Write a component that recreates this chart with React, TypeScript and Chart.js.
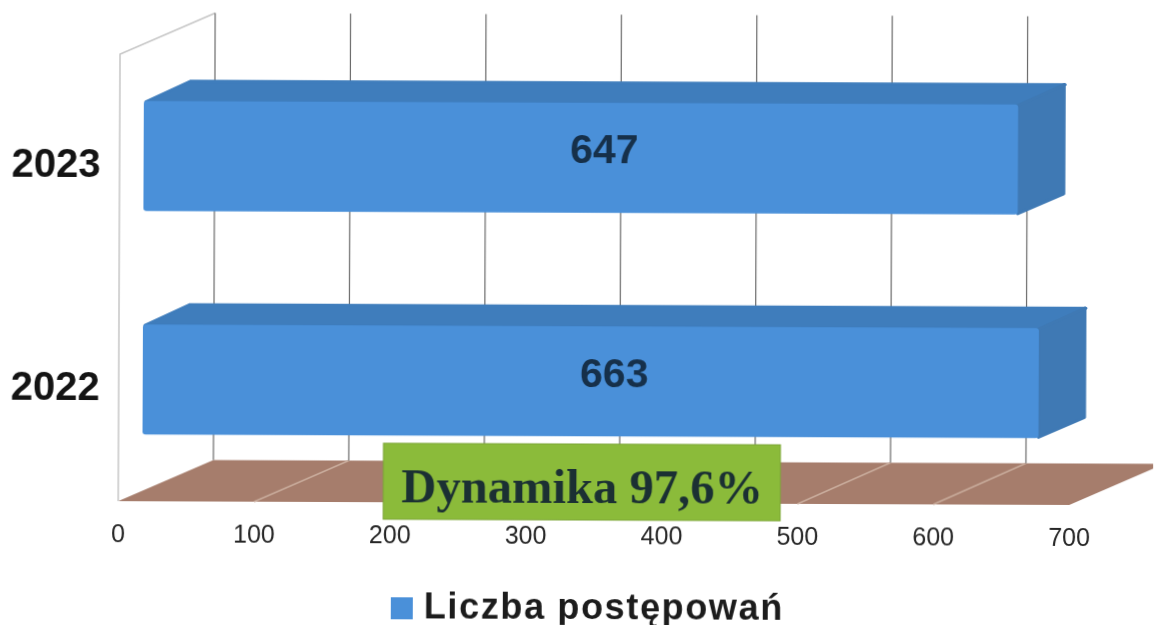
import React, { useEffect, useRef } from "react";
import { Chart, registerables } from "chart.js";

Chart.register(...registerables);

const categories = ["2023", "2022"];
const seriesName = "Liczba postępowań";
const seriesValues = [647, 663];
const tickStep = 100;
const axisMax = 700;
const calloutText = "Dynamika 97,6%";

const SANS = '"Liberation Sans", Arial, sans-serif';
const SERIF = '"Liberation Serif", "Times New Roman", serif';
const FRONT = "#4a90d9";
const TOP = "#3f7dbc";
const SIDE = "#3f79b4";
const FLOOR = "#a67d6c";
const FLOOR_LINE = "#c9ac9c";
const WALL = "#c6c6c6";
const GRID = "#6a6a6a";
const VALUE_COLOR = "#16304a";

// plot-frame depth and bar-depth offsets of the pseudo 3D projection
const WALL_DX = 95;
const WALL_DY = -41.5;
const WALL_SCALE = 0.9968;
const BAR_DX = 47;
const BAR_DY = -21;
const BAR_SHIFT_X = 24;
const BAR_SHIFT_Y = -10;
const BAR_SCALE = 0.9947;

const makeSwatch = () => {
  const c = document.createElement("canvas");
  c.width = 22;
  c.height = 22;
  const g = c.getContext("2d")!;
  g.fillStyle = FRONT;
  g.fillRect(0, 0, 22, 22);
  return c;
};

const scene = {
  id: "scene3d",
  afterLayout(chart: any) {
    const legend = chart.legend;
    legend.left += 43;
    legend.right += 43;
    legend.top += 12;
    legend.bottom += 12;
    if (!legend.__spaced) {
      legend.__spaced = true;
      const draw = legend.draw.bind(legend);
      legend.draw = () => {
        const ctx = chart.ctx;
        const prev = ctx.letterSpacing;
        ctx.letterSpacing = "1.65px";
        draw();
        ctx.letterSpacing = prev;
      };
    }
  },
  beforeDatasetsDraw(chart: any) {
    const { ctx, chartArea: a, scales } = chart;
    const x = scales.x;
    ctx.save();
    // floor
    ctx.fillStyle = FLOOR;
    ctx.beginPath();
    ctx.moveTo(a.left, a.bottom);
    ctx.lineTo(a.right, a.bottom);
    ctx.lineTo(a.right + WALL_DX, a.bottom + WALL_DY);
    ctx.lineTo(a.left + WALL_DX, a.bottom + WALL_DY);
    ctx.closePath();
    ctx.fill();
    // side wall outline
    ctx.strokeStyle = WALL;
    ctx.lineWidth = 1.5;
    ctx.beginPath();
    ctx.moveTo(a.left, a.bottom);
    ctx.lineTo(a.left, a.top);
    ctx.lineTo(a.left + WALL_DX, a.top + WALL_DY);
    ctx.stroke();
    // grid lines
    x.ticks.forEach((t: any) => {
      const px = x.getPixelForValue(t.value);
      const back = a.left + WALL_DX + (px - a.left) * WALL_SCALE;
      if (t.value > 0 && t.value < axisMax) {
        ctx.strokeStyle = FLOOR_LINE;
        ctx.lineWidth = 1.5;
        ctx.beginPath();
        ctx.moveTo(px, a.bottom);
        ctx.lineTo(back, a.bottom + WALL_DY);
        ctx.stroke();
      }
      ctx.strokeStyle = GRID;
      ctx.lineWidth = 1.2;
      ctx.beginPath();
      ctx.moveTo(back, a.bottom + WALL_DY);
      ctx.lineTo(back, a.top + WALL_DY);
      ctx.stroke();
    });
    ctx.restore();

    // bar depth faces, from the bar elements
    const toBar = (v: number) => a.left + BAR_SHIFT_X + (v - a.left) * BAR_SCALE;
    chart.getDatasetMeta(0).data.forEach((bar: any) => {
      const p = bar.getProps(["x", "y", "base", "height"], true);
      const l = toBar(p.base);
      const r = toBar(p.x);
      const t = p.y - p.height / 2 + BAR_SHIFT_Y;
      const b = p.y + p.height / 2 + BAR_SHIFT_Y;
      ctx.save();
      ctx.lineJoin = "round";
      ctx.lineWidth = 3;
      ctx.fillStyle = TOP;
      ctx.strokeStyle = TOP;
      ctx.beginPath();
      ctx.moveTo(l + 2, t + 1);
      ctx.lineTo(l + BAR_DX, t + BAR_DY + 1);
      ctx.lineTo(r + BAR_DX, t + BAR_DY + 1);
      ctx.lineTo(r, t + 1);
      ctx.closePath();
      ctx.fill();
      ctx.stroke();
      ctx.fillStyle = SIDE;
      ctx.strokeStyle = SIDE;
      ctx.beginPath();
      ctx.moveTo(r, t + 1);
      ctx.lineTo(r + BAR_DX - 1, t + BAR_DY + 1);
      ctx.lineTo(r + BAR_DX - 1, b + BAR_DY);
      ctx.lineTo(r, b - 1);
      ctx.closePath();
      ctx.fill();
      ctx.stroke();
      ctx.restore();
    });

    // the front faces are drawn by Chart.js in the shifted frame
    ctx.save();
    ctx.translate(a.left + BAR_SHIFT_X, BAR_SHIFT_Y);
    ctx.scale(BAR_SCALE, 1);
    ctx.translate(-a.left, 0);
  },
  afterDatasetsDraw(chart: any) {
    const { ctx, chartArea: a } = chart;
    ctx.restore();
    const toBar = (v: number) => a.left + BAR_SHIFT_X + (v - a.left) * BAR_SCALE;

    ctx.save();
    ctx.font = `bold 41px ${SANS}`;
    ctx.fillStyle = VALUE_COLOR;
    ctx.textAlign = "center";
    ctx.textBaseline = "middle";
    chart.getDatasetMeta(0).data.forEach((bar: any, i: number) => {
      const p = bar.getProps(["x", "y", "base"], true);
      const mid = (toBar(p.base) + toBar(p.x) + BAR_DX) / 2;
      ctx.fillText(String(seriesValues[i]), mid, p.y + BAR_SHIFT_Y - 6);
    });

    // callout box
    ctx.fillStyle = "#8bbb3a";
    ctx.strokeStyle = "#7ca636";
    ctx.lineWidth = 1;
    ctx.fillRect(384, 444, 397, 76);
    ctx.strokeRect(384, 444, 397, 76);
    ctx.font = `bold 48.6px ${SERIF}`;
    ctx.fillStyle = "#1b3033";
    ctx.textAlign = "center";
    ctx.textBaseline = "middle";
    ctx.fillText(calloutText, 583, 490);
    ctx.restore();
  },
};

export default function App() {
  const ref = useRef<HTMLCanvasElement>(null);
  useEffect(() => {
    const chart = new Chart(ref.current!, {
      type: "bar",
      data: {
        labels: categories,
        datasets: [
          {
            label: seriesName,
            data: seriesValues,
            backgroundColor: FRONT,
            borderColor: FRONT,
            borderRadius: 3,
            borderSkipped: false,
            categoryPercentage: 0.493,
            barPercentage: 1,
            clip: false,
          } as any,
        ],
      },
      options: {
        indexAxis: "y",
        responsive: false,
        animation: false,
        layout: { padding: { left: 0, right: 84, top: 56, bottom: 0 } },
        plugins: {
          tooltip: { enabled: false },
          legend: {
            position: "bottom",
            labels: {
              usePointStyle: true,
              pointStyle: makeSwatch(),
              pointStyleWidth: 8,
              boxHeight: 22,
              padding: 0,
              color: "#1c1c1c",
              font: { family: SANS, size: 36, weight: "bold" },
            },
          },
        },
        scales: {
          x: {
            type: "linear",
            min: 0,
            max: axisMax,
            grid: { display: false, drawTicks: false },
            border: { display: false },
            afterFit(s: any) {
              s.height = 76;
            },
            ticks: {
              stepSize: tickStep,
              maxRotation: 0,
              autoSkip: false,
              padding: 19,
              color: "#262626",
              font: { family: SANS, size: 25 },
            },
          },
          y: {
            type: "category",
            grid: { display: false, drawTicks: false },
            border: { display: false },
            afterFit(s: any) {
              s.width = 119;
            },
            ticks: {
              padding: 19,
              color: "#141414",
              font: { family: SANS, size: 40, weight: "bold" },
            },
          },
        },
      },
      plugins: [scene],
    } as any);
    return () => chart.destroy();
  }, []);
  return (
    <div style={{ position: "fixed", left: 0, top: 0, width: 1154, height: 625, overflow: "hidden", background: "#fff" }}>
      <canvas
        ref={ref}
        width={1154}
        height={625}
        style={{ display: "block", transform: "rotate(0.23deg)" }}
      />
    </div>
  );
}
